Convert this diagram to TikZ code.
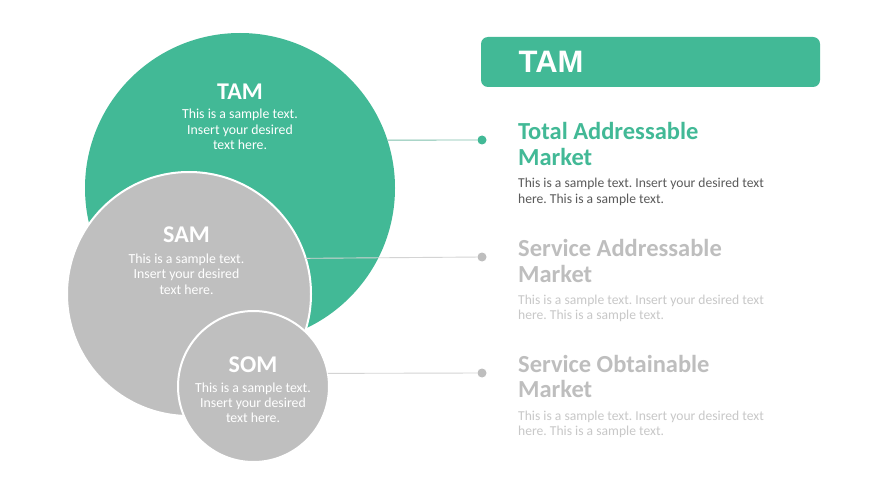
\documentclass[tikz,border=0pt]{standalone}
\usepackage{fontspec}
\setmainfont{Carlito}
\newfontfamily\hdrfont{Liberation Sans}
\frenchspacing
\definecolor{teal1}{RGB}{66,185,150}
\definecolor{circgray}{RGB}{191,191,191}
\definecolor{titlegray}{RGB}{190,190,190}
\definecolor{bodygray}{RGB}{200,200,200}
\definecolor{bodydark}{RGB}{90,90,90}
\definecolor{tamline}{RGB}{125,192,172}
\definecolor{grayline}{RGB}{212,212,212}
\definecolor{graydot}{RGB}{190,190,190}
\tikzset{
  bigcirc/.style={circle, inner sep=0pt, outer sep=0pt},
  ctitle/.style={anchor=base, inner sep=0pt, text=white, font=\fontsize{24}{24}\selectfont\bfseries},
  cbody/.style={anchor=base, inner sep=0pt, text=white},
  rtitle/.style={anchor=base west, inner sep=0pt},
  rbody/.style={anchor=base west, inner sep=0pt},
  dotnode/.style={circle, inner sep=0pt, minimum size=9pt},
  conn/.style={line width=0.9pt},
}
\newcommand{\cbodytxt}{\parbox[t]{160pt}{\centering\frenchspacing\fontsize{13.8}{15.3}\selectfont This is a sample text.\\Insert your desired\\text here.}}
\newcommand{\rbodytxt}{\parbox[t]{320pt}{\raggedright\frenchspacing\fontsize{13.6}{15.3}\selectfont This is a sample text. Insert your desired text\\here. This is a sample text.}}
\newcommand{\rtitletxt}[1]{\parbox[t]{320pt}{\raggedright\fontsize{24.5}{25.5}\selectfont\bfseries #1\\Market}}
\begin{document}
\begin{tikzpicture}[x=1pt,y=-1pt]
\useasboundingbox (0,0) rectangle (870,489);
\fill[white] (0,0) rectangle (870,489);
% circles
\node[bigcirc, fill=teal1, minimum size=310pt] (tam) at (240,188) {};
\node[bigcirc, fill=circgray, draw=white, line width=2pt, minimum size=244pt] (sam) at (189,294) {};
\node[bigcirc, fill=circgray, draw=white, line width=2pt, minimum size=151pt] (som) at (253.5,386.5) {};
% dots
\node[dotnode, fill=teal1] (d1) at (482,140) {};
\node[dotnode, fill=graydot] (d2) at (482,257) {};
\node[dotnode, fill=graydot] (d3) at (482,373) {};
% connectors
\draw[conn, tamline] (tam.18) -- (d1);
\draw[conn, grayline] (sam.17.6) -- (d2);
\draw[conn, grayline] (som.10.3) -- (d3);
% circle texts
\node[ctitle] (tamt) at (240,100) {TAM};
\node[cbody] (tamb) at (240,119) {\cbodytxt};
\node[ctitle] (samt) at (186.5,243) {SAM};
\node[cbody] (samb) at (186.5,263.5) {\cbodytxt};
\node[ctitle] (somt) at (253,372) {SOM};
\node[cbody] (somb) at (253,392) {\cbodytxt};
% header
\fill[teal1, rounded corners=7pt] (481,37) rectangle (820,87);
\node[rtitle, text=white, font=\hdrfont\fontsize{31}{31}\selectfont\bfseries] (hdr) at (518.5,73) {TAM};
% right texts
\node[rtitle, text=teal1] (t1) at (518,140) {\rtitletxt{Total Addressable}};
\node[rbody, text=bodydark] (b1) at (518,188) {\rbodytxt};
\node[rtitle, text=titlegray] (t2) at (518,256.5) {\rtitletxt{Service Addressable}};
\node[rbody, text=bodygray] (b2) at (518,304.5) {\rbodytxt};
\node[rtitle, text=titlegray] (t3) at (518,372) {\rtitletxt{Service Obtainable}};
\node[rbody, text=bodygray] (b3) at (518,420) {\rbodytxt};
\end{tikzpicture}
\end{document}
